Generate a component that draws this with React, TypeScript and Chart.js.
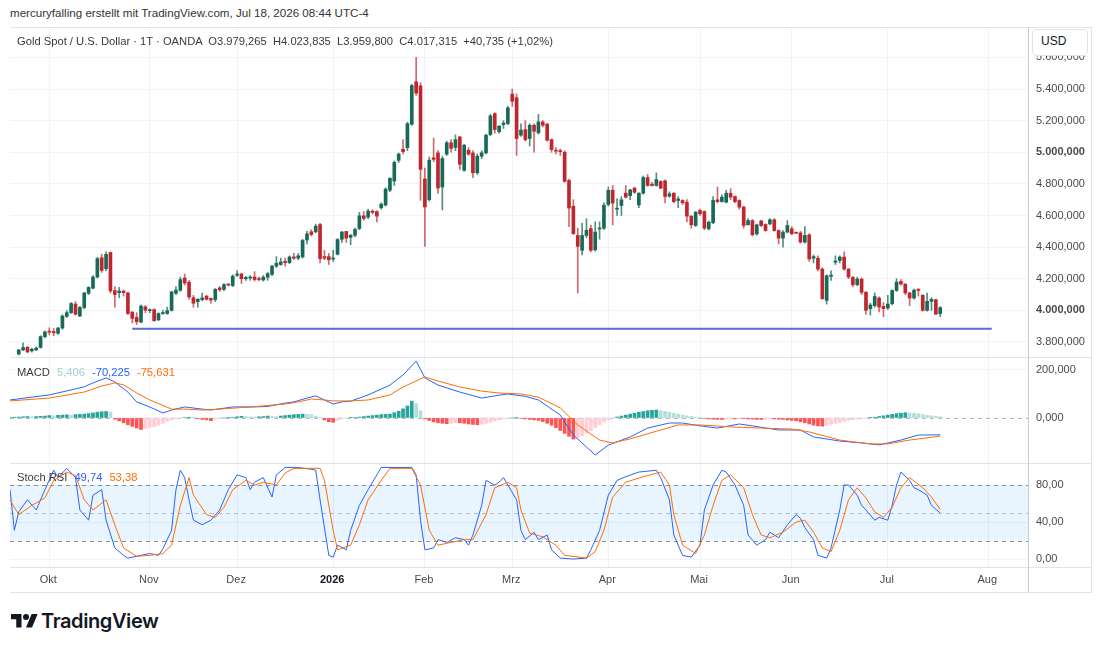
import React, { useEffect, useRef } from "react";
import { Chart, registerables } from "chart.js";

Chart.register(...registerables);

const FONT = '"Liberation Sans", Arial, sans-serif';
Chart.defaults.font.family = FONT;

// ---- Daily OHLC, Gold Spot / USD (OANDA), bar 0 = 22 Sep 2025, bar 211 = 17 Jul 2026 ----
const opens = [
  3724, 3750, 3766, 3744, 3750, 3766, 3834, 3868, 3866, 3855,
  3888, 3962, 3985, 4040, 3964, 4018, 4108, 4140, 4211, 4333,
  4264, 4366, 4125, 4112, 4122, 4110, 3989, 3955, 3926, 4022,
  3998, 4005, 3940, 3980, 3980, 4000, 4108, 4127, 4205, 4178,
  4080, 4055, 4068, 4090, 4075, 4068, 4142, 4133, 4166, 4157,
  4222, 4230, 4200, 4205, 4211, 4200, 4192, 4210, 4228, 4280,
  4290, 4310, 4302, 4338, 4330, 4338, 4445, 4497, 4497, 4543,
  4340, 4340, 4325, 4355, 4450, 4499, 4462, 4475, 4518, 4598,
  4590, 4628, 4625, 4649, 4666, 4760, 4818, 4949, 5019, 5029,
  5177, 5446, 5420, 4831, 4700, 4965, 4996, 4780, 4988, 5060,
  5030, 5097, 4886, 5013, 4996, 4870, 4975, 4996, 5112, 5245,
  5130, 5175, 5182, 5368, 5345, 5108, 5143, 5087, 5171, 5123,
  5192, 5178, 5080, 5013, 5010, 5000, 4822, 4658, 4474, 4380,
  4474, 4517, 4383, 4515, 4520, 4670, 4760, 4640, 4663, 4741,
  4726, 4773, 4667, 4741, 4840, 4798, 4790, 4815, 4819, 4722,
  4741, 4695, 4695, 4684, 4596, 4537, 4632, 4625, 4516, 4554,
  4699, 4688, 4684, 4741, 4720, 4695, 4653, 4541, 4568, 4484,
  4566, 4543, 4547, 4573, 4505, 4457, 4495, 4516, 4490, 4490,
  4432, 4478, 4330, 4330, 4261, 4063, 4215, 4304, 4316, 4337,
  4261, 4208, 4162, 4198, 4114, 4011, 4030, 4078, 4025, 4015,
  4042, 4126, 4183, 4166, 4110, 4078, 4130, 4095, 4000, 4057,
  4067, 3979.265,
];
const highs = [
  3752, 3795, 3772, 3760, 3768, 3840, 3870, 3890, 3885, 3892,
  3972, 3998, 4050, 4055, 4025, 4115, 4150, 4220, 4335, 4355,
  4370, 4370, 4150, 4145, 4128, 4115, 3992, 3985, 4035, 4030,
  4010, 4010, 3985, 4000, 4020, 4120, 4150, 4210, 4230, 4190,
  4095, 4075, 4110, 4095, 4080, 4138, 4152, 4170, 4170, 4225,
  4252, 4235, 4215, 4220, 4245, 4210, 4220, 4240, 4285, 4340,
  4330, 4330, 4345, 4360, 4360, 4450, 4500, 4510, 4545, 4550,
  4380, 4360, 4380, 4455, 4500, 4500, 4480, 4520, 4620, 4625,
  4640, 4635, 4630, 4680, 4775, 4840, 4945, 4995, 5080, 5190,
  5430, 5600, 5440, 4900, 4970, 5090, 5010, 4975, 5070, 5080,
  5110, 5100, 5050, 5030, 5010, 4990, 5010, 5115, 5240, 5250,
  5170, 5200, 5290, 5400, 5370, 5180, 5200, 5180, 5180, 5240,
  5200, 5185, 5085, 5030, 5020, 5010, 4830, 4700, 4520, 4550,
  4580, 4540, 4560, 4560, 4680, 4780, 4790, 4705, 4720, 4790,
  4765, 4780, 4745, 4850, 4860, 4810, 4870, 4820, 4825, 4750,
  4745, 4720, 4700, 4700, 4600, 4625, 4640, 4630, 4565, 4720,
  4780, 4730, 4760, 4770, 4725, 4700, 4660, 4580, 4575, 4545,
  4570, 4548, 4580, 4580, 4510, 4505, 4568, 4530, 4495, 4500,
  4530, 4485, 4350, 4345, 4270, 4225, 4250, 4345, 4345, 4370,
  4265, 4215, 4210, 4205, 4120, 4045, 4110, 4085, 4050, 4095,
  4130, 4200, 4195, 4170, 4115, 4135, 4140, 4100, 4110, 4080,
  4070, 4023.835,
];
const lows = [
  3718, 3745, 3732, 3735, 3745, 3760, 3826, 3845, 3840, 3848,
  3880, 3955, 3980, 3970, 3960, 4010, 4100, 4135, 4205, 4240,
  4250, 4110, 4020, 4080, 4090, 3975, 3920, 3910, 3920, 3985,
  3985, 3930, 3935, 3975, 3975, 3995, 4100, 4120, 4160, 4070,
  4020, 4020, 4060, 4065, 4045, 4055, 4120, 4125, 4155, 4150,
  4215, 4170, 4190, 4190, 4185, 4188, 4185, 4190, 4220, 4270,
  4285, 4280, 4295, 4320, 4320, 4330, 4420, 4470, 4490, 4300,
  4320, 4290, 4310, 4350, 4430, 4430, 4415, 4465, 4510, 4570,
  4580, 4610, 4560, 4640, 4660, 4750, 4790, 4935, 4990, 5010,
  5170, 5360, 4696, 4405, 4690, 4940, 4740, 4635, 4980, 5000,
  5010, 4890, 4880, 4980, 4840, 4860, 4960, 4990, 5105, 5120,
  5120, 5150, 5175, 5290, 4980, 5100, 5070, 5040, 5000, 5115,
  5160, 5070, 5000, 4990, 4980, 4810, 4530, 4480, 4110, 4350,
  4460, 4370, 4375, 4450, 4510, 4660, 4540, 4600, 4600, 4710,
  4700, 4740, 4650, 4735, 4785, 4785, 4785, 4770, 4680, 4715,
  4680, 4650, 4670, 4560, 4520, 4530, 4600, 4510, 4508, 4548,
  4680, 4685, 4680, 4700, 4680, 4640, 4520, 4540, 4470, 4475,
  4530, 4500, 4540, 4500, 4420, 4400, 4490, 4480, 4485, 4425,
  4425, 4310, 4300, 4250, 4070, 4040, 4190, 4290, 4300, 4255,
  4200, 4150, 4155, 4100, 3975, 3970, 4020, 3990, 3960, 4005,
  4035, 4120, 4160, 4100, 4030, 4070, 4090, 3995, 3995, 4000,
  3975, 3959.8,
];
const closes = [
  3750, 3765, 3737, 3754, 3762, 3834, 3863, 3862, 3858, 3888,
  3964, 3985, 4043, 3975, 4018, 4110, 4145, 4211, 4327, 4253,
  4354, 4123, 4100, 4122, 4112, 3980, 3949, 3928, 4027, 4001,
  4002, 3935, 3980, 3983, 3998, 4117, 4128, 4195, 4173, 4085,
  4045, 4070, 4078, 4070, 4065, 4133, 4130, 4163, 4160, 4216,
  4230, 4200, 4208, 4207, 4195, 4195, 4210, 4232, 4280, 4298,
  4306, 4302, 4338, 4330, 4345, 4442, 4484, 4480, 4533, 4328,
  4330, 4320, 4330, 4448, 4495, 4457, 4475, 4512, 4598, 4581,
  4628, 4620, 4596, 4672, 4767, 4835, 4936, 4989, 5004, 5181,
  5422, 5374, 4892, 4654, 4950, 4955, 4774, 4960, 5060, 5025,
  5080, 4924, 5045, 4988, 4870, 4975, 4996, 5108, 5230, 5144,
  5165, 5185, 5281, 5323, 5087, 5140, 5080, 5171, 5133, 5192,
  5171, 5076, 5017, 5007, 5004, 4816, 4647, 4485, 4405, 4474,
  4506, 4380, 4495, 4520, 4665, 4759, 4679, 4645, 4699, 4716,
  4762, 4747, 4741, 4840, 4790, 4790, 4827, 4773, 4720, 4737,
  4688, 4705, 4680, 4596, 4541, 4621, 4611, 4520, 4558, 4695,
  4688, 4716, 4741, 4716, 4688, 4653, 4537, 4568, 4478, 4541,
  4537, 4505, 4573, 4505, 4457, 4495, 4537, 4484, 4488, 4432,
  4474, 4326, 4340, 4261, 4074, 4219, 4223, 4312, 4337, 4261,
  4211, 4162, 4198, 4114, 4000, 4034, 4088, 4021, 4011, 4040,
  4126, 4179, 4166, 4110, 4078, 4128, 4126, 4000, 4057, 4070,
  3976.58, 4017.315,
];

// Horizontal support line drawn on the price pane
const supportLevel = 3884;
const supportFromIdx = 26;
const supportToIdx = 222.8;

// ---- MACD (12, 26, close, 9): line vertices (bar index, value) ----
const macdIdx = [
  -2, 7, 12, 15, 17, 20, 22, 25, 27, 30, 33, 35, 38, 42, 44, 49, 54, 57, 61, 63,
  66, 68, 70, 72, 74, 76, 80, 85, 88, 91, 93, 96, 101, 106, 110, 112, 116, 119, 124, 127,
  130, 132, 135, 140, 144, 149, 152, 156, 160, 165, 168, 174, 179, 182, 188, 193, 197, 202, 206, 211,
];
const macdVal = [
  75, 96, 117, 130, 146, 167, 150, 108, 67, 46, 21, 33, 46, 37, 33, 46, 46, 48, 62, 67,
  83, 92, 75, 58, 67, 70, 96, 137, 179, 237, 167, 137, 108, 83, 95, 100, 90, 75, 12, -71,
  -121, -154, -113, -79, -42, -21, -21, -33, -42, -25, -33, -50, -50, -79, -96, -104, -112, -92, -71, -70.225,
];
const signalIdx = [
  -2, 7, 15, 19, 22, 24, 27, 30, 35, 38, 42, 46, 53, 61, 64, 67, 70, 72, 76, 80,
  85, 88, 93, 96, 101, 106, 110, 115, 119, 124, 128, 133, 136, 140, 147, 151, 156, 163, 170, 177,
  181, 188, 195, 199, 204, 211,
];
const signalVal = [
  71, 83, 108, 133, 146, 138, 104, 75, 37, 37, 33, 37, 46, 58, 67, 79, 75, 71, 71, 75,
  96, 129, 171, 154, 129, 112, 104, 100, 87, 42, -29, -92, -104, -87, -50, -29, -29, -37, -42, -46,
  -58, -92, -108, -108, -92, -75.631,
];
// Histogram, one value per bar starting at bar index -2
const histStart = -2;
const histVal = [
  3, 3, 4, 5, 6, 5, 6, 7, 8, 10, 9, 11, 12, 13, 12, 14, 15, 16, 18, 21, 24, 26, 27, 24,
  -5, -12, -20, -28, -35, -42, -48, -44, -40, -36, -30, -22, -14, -8, -4, -2,
  2, 3, 2, -3, -6, -8, -11, -6, -2, 0, 2, 3, 5, 7, 6, 5, 4, 5, 6, 8, 7, 6, 8,
  10, 12, 14, 15, 16, 15, 14, 8, 3, -8, -16, -18, -10, -4, -2, 1, 2, 4,
  6, 8, 10, 12, 14, 15, 16, 22, 28, 38, 50, 70, 60, 30, -4, -10,
  -16, -20, -22, -24, -22, -20, -20, -22, -25, -27, -28, -26, -22, -18, -12, -8, -4, -2,
  0, 2, -2, -4, -6, -8, -10, -15, -22, -30, -40, -52, -64, -76, -88,
  -82, -74, -64, -52, -40, -28, -16, -8, -2, 4, 8, 12, 16, 20, 24, 27, 30, 32, 33,
  30, 27, 24, 20, 16, 12, 9, 6, 3, 1,
  -2, -4, -5, -6, -6, -5, -4, -4, -3, -3, -4, -5, -6, -6, -5, -4, -4, -5, -6, -8, -10, -12,
  -16, -20, -25, -30, -33, -34, -30, -26, -22, -18, -14, -10, -7, -5, -3, -1,
  1, 3, 6, 9, 12, 15, 18, 20, 22, 21, 20, 17, 14, 11, 9, 7, 5.406,
];

// ---- Stoch RSI (3, 3, 14, 14): line vertices (bar index, value) ----
const kIdx = [
  -2, -1, 0, 2, 4, 6, 8, 9, 11, 13, 14, 16, 17, 19, 20, 22, 24, 25, 28, 30,
  32, 33, 35, 36, 37, 38, 39, 40, 42, 44, 46, 48, 50, 52, 53, 54, 56, 58, 59, 61,
  64, 67, 68, 69, 71, 72, 73, 75, 76, 78, 80, 82, 83, 90, 91, 92, 93, 95, 96, 98,
  100, 102, 103, 104, 106, 107, 109, 110, 111, 112, 114, 115, 116, 118, 119, 121, 122, 124, 127, 130,
  131, 133, 135, 137, 139, 142, 146, 147, 149, 150, 152, 154, 156, 157, 159, 161, 162, 164, 166, 167,
  169, 171, 172, 174, 176, 178, 179, 180, 182, 183, 185, 186, 188, 189, 190, 192, 193, 194, 196, 197,
  199, 200, 201, 202, 204, 205, 206, 208, 209, 211,
];
const kVal = [
  75, 31, 51, 64, 53, 75, 96, 88, 98, 88, 53, 42, 69, 75, 42, 12, 4, 1, 4, 6,
  4, 11, 31, 75, 96, 88, 64, 42, 37, 42, 53, 75, 91, 88, 75, 83, 88, 67, 91, 99,
  99, 97, 96, 64, 4, 2, 15, 10, 31, 58, 75, 91, 99, 99, 91, 42, 10, 12, 21, 18,
  23, 21, 15, 26, 58, 85, 80, 83, 88, 80, 64, 31, 21, 29, 21, 26, 10, 1, 0, 1,
  10, 31, 69, 85, 89, 94, 96, 88, 64, 26, 4, 2, 15, 53, 80, 96, 94, 80, 58, 26,
  15, 21, 29, 23, 37, 48, 44, 34, 21, 4, 1, 12, 53, 80, 80, 69, 58, 53, 42, 45,
  42, 58, 80, 94, 85, 77, 75, 69, 58, 49.74,
];
const dIdx = [
  -2, 0, 3, 6, 8, 11, 13, 15, 17, 20, 22, 24, 27, 30, 33, 35, 37, 39, 40, 43,
  45, 47, 49, 52, 54, 56, 59, 61, 63, 69, 70, 72, 73, 76, 78, 80, 83, 85, 90, 92,
  94, 96, 99, 102, 104, 107, 109, 112, 114, 115, 117, 120, 123, 125, 130, 132, 134, 136, 139, 143,
  147, 149, 150, 152, 155, 157, 159, 161, 163, 166, 168, 170, 172, 175, 178, 180, 182, 184, 186, 188,
  190, 192, 194, 196, 198, 200, 202, 204, 207, 209, 211,
];
const dVal = [
  64, 48, 58, 66, 85, 94, 90, 64, 53, 64, 37, 12, 3, 4, 6, 15, 58, 88, 69, 48,
  45, 56, 75, 85, 80, 83, 80, 93, 98, 98, 85, 31, 10, 15, 37, 64, 85, 98, 98, 80,
  31, 15, 18, 21, 21, 48, 77, 83, 77, 53, 28, 24, 15, 4, 1, 8, 31, 67, 83, 89,
  94, 80, 48, 15, 6, 26, 58, 85, 91, 77, 48, 26, 23, 29, 40, 42, 29, 12, 8, 31,
  64, 77, 66, 51, 45, 56, 77, 88, 77, 67, 53.38,
];

// ---- Time axis ----
const monthStartIdx = [7, 30, 50, 72, 93, 113, 135, 156, 177, 199, 222];
const monthLabels = ["Okt", "Nov", "Dez", "2026", "Feb", "Mrz", "Apr", "Mai", "Jun", "Jul", "Aug"];

// ---- Axis ticks ----
const priceTicks = [3800, 4000, 4200, 4400, 4600, 4800, 5000, 5200, 5400, 5600];
const macdTicks = [0, 200];
const stochTicks = [0, 40, 80];

// ---- View ranges ----
const X_MIN = -2;
const X_MAX = 231.1;
const PRICE_MIN = 3705;
const PRICE_MAX = 5786;
const MACD_MIN = -187.5;
const MACD_MAX = 254;
const STOCH_MIN = -8.6;
const STOCH_MAX = 103.8;

// ---- Style ----
const GRID = "#f0f3fa";
const FRAME = "#e0e3eb";
const AXIS_LINE = "#c9ccd3";
const AXIS_TEXT = "#4a4a4a";
const UP = "#176a57";
const DOWN = "#c0262d";
const UP_WICK = "rgba(23,106,87,0.75)";
const DOWN_WICK = "rgba(192,38,45,0.7)";
const BLUE = "#2962ff";
const ORANGE = "#ff6d00";
const LEVEL_BLUE = "#5c6bd0";
const AXIS_W = 64;
const CANVAS_W = 1082;

function fmtDe(v: number, digits: number) {
  const s = Math.abs(v).toFixed(digits);
  const [int, frac] = s.split(".");
  const grouped = int.replace(/\B(?=(\d{3})+(?!\d))/g, ".");
  return (v < 0 ? "-" : "") + grouped + (frac ? "," + frac : "");
}

type Level = { value: number; color: string; dash: number[] };

function levelsPlugin(levels: Level[], band?: { from: number; to: number; color: string }) {
  return {
    id: "levels",
    beforeDatasetsDraw(chart: any) {
      const { ctx, chartArea } = chart;
      const y = chart.scales.y;
      ctx.save();
      if (band) {
        const top = y.getPixelForValue(band.to);
        const bottom = y.getPixelForValue(band.from);
        ctx.fillStyle = band.color;
        ctx.fillRect(chartArea.left, top, chartArea.right - chartArea.left, bottom - top);
      }
      for (const l of levels) {
        const py = Math.round(y.getPixelForValue(l.value)) + 0.5;
        ctx.strokeStyle = l.color;
        ctx.lineWidth = 1;
        ctx.setLineDash(l.dash);
        ctx.beginPath();
        ctx.moveTo(chartArea.left, py);
        ctx.lineTo(chartArea.right, py);
        ctx.stroke();
      }
      ctx.restore();
    },
  };
}

function xScale(withLabels: boolean) {
  return {
    type: "linear",
    min: X_MIN,
    max: X_MAX,
    offset: false,
    afterBuildTicks: (s: any) => {
      s.ticks = monthStartIdx.map((v) => ({ value: v }));
    },
    afterFit: (s: any) => {
      s.height = withLabels ? 25 : 0;
      s.paddingLeft = 0;
      s.paddingRight = 0;
    },
    grid: { color: GRID, drawTicks: false, offset: false },
    border: { display: false },
    ticks: {
      display: withLabels,
      autoSkip: false,
      maxRotation: 0,
      padding: 6,
      labelOffset: -1,
      color: (ctx: any) => (monthLabels[ctx.index] === "2026" ? "#131722" : AXIS_TEXT),
      font: (ctx: any) => ({
        family: FONT,
        size: 11,
        weight: monthLabels[ctx.index] === "2026" ? "bold" : "normal",
      }),
      callback: (_v: any, i: number) => monthLabels[i],
    },
  };
}

function yScale(min: number, max: number, ticks: number[], digits: number, boldEvery?: number) {
  return {
    position: "right",
    min,
    max,
    beginAtZero: false,
    afterBuildTicks: (s: any) => {
      s.ticks = ticks.map((v) => ({ value: v }));
    },
    afterFit: (s: any) => {
      s.width = AXIS_W;
      s.paddingTop = 0;
      s.paddingBottom = 0;
    },
    grid: { color: GRID, drawTicks: false },
    border: { display: true, color: AXIS_LINE },
    ticks: {
      autoSkip: false,
      padding: 8,
      color: AXIS_TEXT,
      font: (ctx: any) => ({
        family: FONT,
        size: 11,
        weight: boldEvery && ctx.tick && ctx.tick.value % boldEvery === 0 ? "bold" : "normal",
      }),
      callback: (v: any) => fmtDe(Number(v), digits),
    },
  };
}

const baseOptions = {
  responsive: false,
  maintainAspectRatio: false,
  animation: false,
  events: [],
  layout: { padding: 0 },
  plugins: { legend: { display: false }, tooltip: { enabled: false } },
};

function useChart(build: (canvas: HTMLCanvasElement) => Chart) {
  const ref = useRef<HTMLCanvasElement>(null);
  useEffect(() => {
    if (!ref.current) return;
    const chart = build(ref.current);
    return () => chart.destroy();
  }, []);
  return ref;
}

function PriceChart() {
  const ref = useChart((canvas) => {
    const idx = opens.map((_, i) => i);
    const rising = idx.map((i) => closes[i] >= opens[i]);
    return new Chart(canvas, {
      type: "bar",
      data: {
        datasets: [
          {
            type: "bar",
            data: idx.map((i) => ({ x: i, y: [lows[i], highs[i]] })),
            backgroundColor: rising.map((r) => (r ? UP_WICK : DOWN_WICK)),
            barThickness: 1,
            grouped: false,
            order: 3,
          } as any,
          {
            type: "bar",
            data: idx.map((i) => ({ x: i, y: [opens[i], closes[i]] })),
            backgroundColor: rising.map((r) => (r ? UP : DOWN)),
            barThickness: 3,
            minBarLength: 1,
            grouped: false,
            order: 2,
          } as any,
          {
            type: "line",
            data: [
              { x: supportFromIdx, y: supportLevel },
              { x: supportToIdx, y: supportLevel },
            ],
            borderColor: LEVEL_BLUE,
            borderWidth: 2,
            pointRadius: 0,
            order: 1,
          } as any,
        ],
      },
      options: {
        ...baseOptions,
        scales: {
          x: xScale(false),
          y: yScale(PRICE_MIN, PRICE_MAX, priceTicks, 3, 1000),
        },
      } as any,
    });
  });
  return <canvas ref={ref} width={CANVAS_W} height={329} style={{ display: "block" }} />;
}

function histColor(i: number) {
  const v = histVal[i];
  const prev = i > 0 ? histVal[i - 1] : v;
  if (v >= 0) return v >= prev ? "#26a69a" : "#b2dfdb";
  return v <= prev ? "#ff5252" : "#ffcdd2";
}

function MacdChart() {
  const ref = useChart((canvas) => {
    return new Chart(canvas, {
      type: "bar",
      data: {
        datasets: [
          {
            type: "bar",
            data: histVal.map((v, i) => ({ x: histStart + i, y: v })),
            backgroundColor: histVal.map((_, i) => histColor(i)),
            barThickness: 3,
            grouped: false,
            order: 3,
          } as any,
          {
            type: "line",
            data: macdIdx.map((x, i) => ({ x, y: macdVal[i] })),
            borderColor: BLUE,
            borderWidth: 1,
            pointRadius: 0,
            order: 2,
          } as any,
          {
            type: "line",
            data: signalIdx.map((x, i) => ({ x, y: signalVal[i] })),
            borderColor: ORANGE,
            borderWidth: 1,
            pointRadius: 0,
            order: 1,
          } as any,
        ],
      },
      options: {
        ...baseOptions,
        scales: {
          x: xScale(false),
          y: yScale(MACD_MIN, MACD_MAX, macdTicks, 3),
        },
      } as any,
      plugins: [levelsPlugin([{ value: 0, color: "rgba(120,123,134,0.55)", dash: [4, 4] }])],
    });
  });
  return <canvas ref={ref} width={CANVAS_W} height={106} style={{ display: "block" }} />;
}

function StochChart() {
  const ref = useChart((canvas) => {
    return new Chart(canvas, {
      type: "line",
      data: {
        datasets: [
          {
            data: kIdx.map((x, i) => ({ x, y: kVal[i] })),
            borderColor: BLUE,
            borderWidth: 1,
            pointRadius: 0,
            order: 2,
          },
          {
            data: dIdx.map((x, i) => ({ x, y: dVal[i] })),
            borderColor: ORANGE,
            borderWidth: 1,
            pointRadius: 0,
            order: 1,
          },
        ],
      },
      options: {
        ...baseOptions,
        scales: {
          x: xScale(true),
          y: yScale(STOCH_MIN, STOCH_MAX, stochTicks, 2),
        },
      } as any,
      plugins: [
        levelsPlugin(
          [
            { value: 80, color: "#8a8d97", dash: [4, 4] },
            { value: 50, color: "rgba(120,123,134,0.45)", dash: [4, 4] },
            { value: 20, color: "#8a8d97", dash: [4, 4] },
          ],
          { from: 20, to: 80, color: "rgba(33,150,243,0.1)" }
        ),
      ],
    });
  });
  return <canvas ref={ref} width={CANVAS_W} height={129} style={{ display: "block" }} />;
}

const abs = (left: number, top: number, extra: React.CSSProperties = {}): React.CSSProperties => ({
  position: "absolute",
  left,
  top,
  ...extra,
});

function hLine(top: number, left: number, width: number, color = FRAME) {
  return <div style={abs(left, top, { width, height: 1, background: color })} />;
}

export default function App() {
  const n = closes.length;
  const change = closes[n - 1] - closes[n - 2];
  const pct = (change / closes[n - 2]) * 100;
  const ohlc =
    `O${fmtDe(opens[n - 1], 3)}  H${fmtDe(highs[n - 1], 3)}  ` +
    `L${fmtDe(lows[n - 1], 3)}  C${fmtDe(closes[n - 1], 3)}  ` +
    `${change >= 0 ? "+" : ""}${fmtDe(change, 3)} (${pct >= 0 ? "+" : ""}${fmtDe(pct, 2)}%)`;

  const legendText: React.CSSProperties = {
    fontFamily: FONT,
    fontSize: 11.2,
    lineHeight: "14px",
    color: "#3a3a3a",
    whiteSpace: "pre",
  };

  return (
    <div
      style={{
        position: "absolute",
        left: 0,
        top: 0,
        width: 1100,
        height: 650,
        background: "#ffffff",
        overflow: "hidden",
        fontFamily: FONT,
      }}
    >
      <div style={abs(10, 6, { ...legendText, fontSize: 11.6, color: "#333" })}>
        mercuryfalling erstellt mit TradingView.com, Jul 18, 2026 08:44 UTC-4
      </div>

      <div style={abs(10, 28)}>
        <PriceChart />
      </div>
      <div style={abs(10, 357)}>
        <MacdChart />
      </div>
      <div style={abs(10, 463)}>
        <StochChart />
      </div>

      {/* frame and pane separators */}
      {hLine(27, 10, 1082)}
      {hLine(357, 10, 1082)}
      {hLine(463, 10, 1082)}
      {hLine(567, 10, 1082)}
      {hLine(592, 10, 1082)}
      <div style={abs(1028, 27, { width: 1, height: 566, background: AXIS_LINE })} />
      <div style={abs(1091, 27, { width: 1, height: 566, background: FRAME })} />

      {/* price pane legend */}
      <div style={abs(17, 34, legendText)}>
        {"Gold Spot / U.S. Dollar · 1T · OANDA  "}
        {ohlc}
      </div>

      {/* currency badge */}
      <div
        style={abs(1032, 29, {
          width: 56,
          height: 27,
          boxSizing: "border-box",
          border: `1px solid ${FRAME}`,
          borderRadius: 4,
          background: "#fff",
          fontFamily: FONT,
          fontSize: 12,
          lineHeight: "23px",
          paddingLeft: 8,
          color: "#131722",
        })}
      >
        USD
      </div>

      {/* MACD legend */}
      <div style={abs(17, 365, legendText)}>
        <span>MACD</span>
        <span style={{ color: "#9fd3cd", marginLeft: 7 }}>{fmtDe(histVal[histVal.length - 1], 3)}</span>
        <span style={{ color: BLUE, marginLeft: 7 }}>{fmtDe(macdVal[macdVal.length - 1], 3)}</span>
        <span style={{ color: ORANGE, marginLeft: 7 }}>{fmtDe(signalVal[signalVal.length - 1], 3)}</span>
      </div>

      {/* Stoch RSI legend */}
      <div style={abs(17, 470, legendText)}>
        <span>Stoch RSI</span>
        <span style={{ color: BLUE, marginLeft: 7 }}>{fmtDe(kVal[kVal.length - 1], 2)}</span>
        <span style={{ color: ORANGE, marginLeft: 7 }}>{fmtDe(dVal[dVal.length - 1], 2)}</span>
      </div>

      {/* TradingView logo */}
      <svg width="27" height="21" viewBox="0 0 36 28" style={abs(11, 611)}>
        <path d="M14 22H7V11H0V4h14v18zM28 22h-8l7.5-18h8L28 22z" fill="#131722" />
        <circle cx="20" cy="8" r="4" fill="#131722" />
      </svg>
      <div
        style={abs(41, 608, {
          fontFamily: "Inter, Roboto, sans-serif",
          fontSize: 20,
          fontWeight: 600,
          lineHeight: "26px",
          letterSpacing: -0.4,
          color: "#131722",
        })}
      >
        TradingView
      </div>
    </div>
  );
}
